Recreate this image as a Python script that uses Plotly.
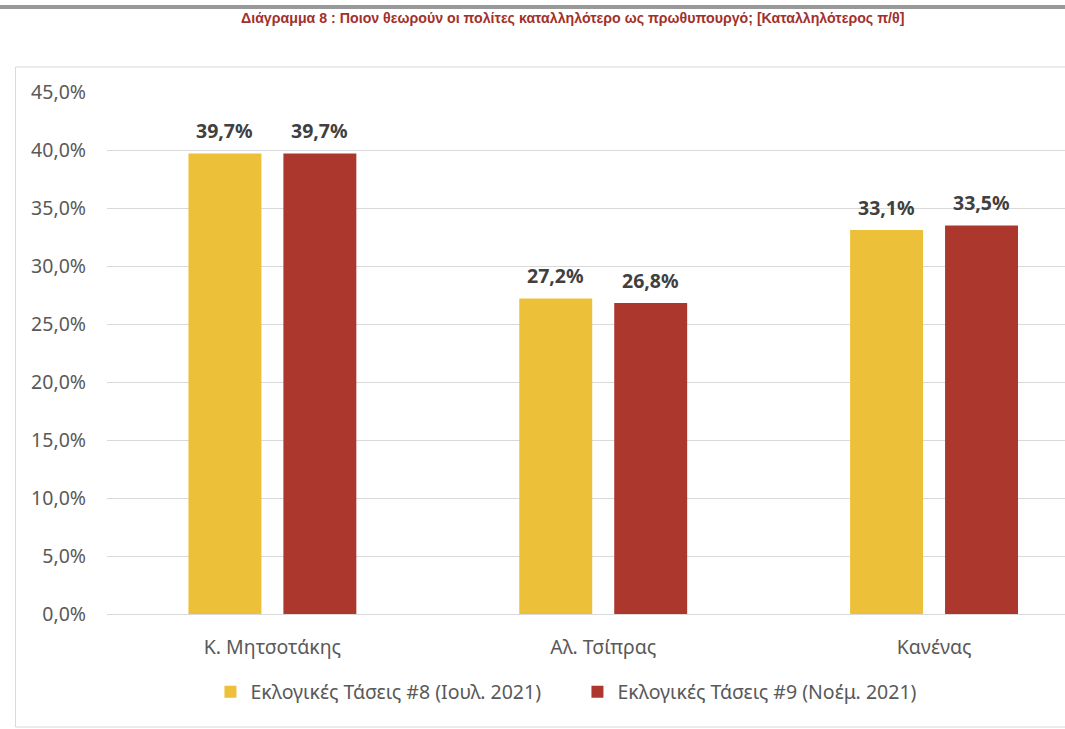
import plotly.graph_objects as go

categories = ["Κ. Μητσοτάκης", "Αλ. Τσίπρας", "Κανένας"]
series_names = ["Εκλογικές Τάσεις #8 (Ιουλ. 2021)", "Εκλογικές Τάσεις #9 (Νοέμ. 2021)"]
values_jul = [39.7, 27.2, 33.1]
values_nov = [39.7, 26.8, 33.5]
tick_vals = [0, 5, 10, 15, 20, 25, 30, 35, 40, 45]
tick_text = ["0,0%", "5,0%", "10,0%", "15,0%", "20,0%", "25,0%", "30,0%", "35,0%", "40,0%", "45,0%"]
title_text = "Διάγραμμα 8 : Ποιον θεωρούν οι πολίτες καταλληλότερο ως πρωθυπουργό; [Καταλληλότερος π/θ]"

colors = ["#ECC038", "#AC382D"]
offsets = [-0.2538, 0.0332]
bar_w = 0.2205
FS = 19.5

fig = go.Figure()
for name, vals, col, off in zip(series_names, [values_jul, values_nov], colors, offsets):
    fig.add_trace(go.Bar(
        x=list(range(len(categories))), y=vals, name=name,
        marker=dict(color=col, line=dict(width=0)),
        width=bar_w, offset=off,
    ))

annotations = []
for vals, off in zip([values_jul, values_nov], offsets):
    for i, v in enumerate(vals):
        annotations.append(dict(
            x=i + off + bar_w / 2, y=v, xref="x", yref="y",
            text="<b>" + f"{v:.1f}".replace(".", ",") + "%</b>",
            showarrow=False, yanchor="bottom", yshift=7,
            font=dict(family="Noto Sans", size=FS, color="#404040"),
        ))

annotations.append(dict(
    x=(572 - 106.5) / 958.5, y=(614 - 18) / 522, xref="paper", yref="paper",
    text="<b>" + title_text + "</b>", showarrow=False,
    xanchor="center", yanchor="middle",
    font=dict(family="Liberation Sans", size=14.2, color="#A3302B"),
))

shapes = [
    dict(type="rect", xref="paper", yref="paper",
         x0=(15 - 106.5) / 958.5, x1=1.05, y0=(614 - 727) / 522, y1=(614 - 67) / 522,
         line=dict(color="#D9D9D9", width=1), fillcolor="rgba(0,0,0,0)", layer="below"),
    dict(type="rect", xref="paper", yref="paper",
         x0=-0.12, x1=1.01, y0=(614 - 9) / 522, y1=(614 - 5) / 522,
         line=dict(width=0), fillcolor="#999999"),
]

fig.update_layout(
    width=1065, height=729,
    margin=dict(l=106.5, r=0, t=92, b=115),
    paper_bgcolor="white", plot_bgcolor="white",
    showlegend=True,
    legend=dict(orientation="h", x=(225 - 15 - 106.5) / 958.5, xanchor="left",
                y=(614 - 692) / 522, yanchor="middle",
                font=dict(family="Noto Sans", size=FS, color="#595959"),
                itemwidth=30, entrywidth=322, entrywidthmode="pixels",
                traceorder="normal"),
    xaxis=dict(range=[-0.5, -0.5 + (1065 - 106.5) / 331], tickmode="array",
               tickvals=list(range(len(categories))), ticktext=categories,
               tickfont=dict(family="Noto Sans", size=FS, color="#595959"),
               showgrid=False, showline=True, linecolor="#D9D9D9", linewidth=1,
               ticks="", ticklabelstandoff=16, zeroline=False),
    yaxis=dict(range=[0, 45], tickmode="array", tickvals=tick_vals, ticktext=tick_text,
               tickfont=dict(family="Noto Sans", size=FS, color="#595959"),
               showgrid=True, gridcolor="#D9D9D9", gridwidth=1, zeroline=False,
               ticks="", ticklabelstandoff=20),
    annotations=annotations, shapes=shapes,
)

fig.write_html("out.html")
